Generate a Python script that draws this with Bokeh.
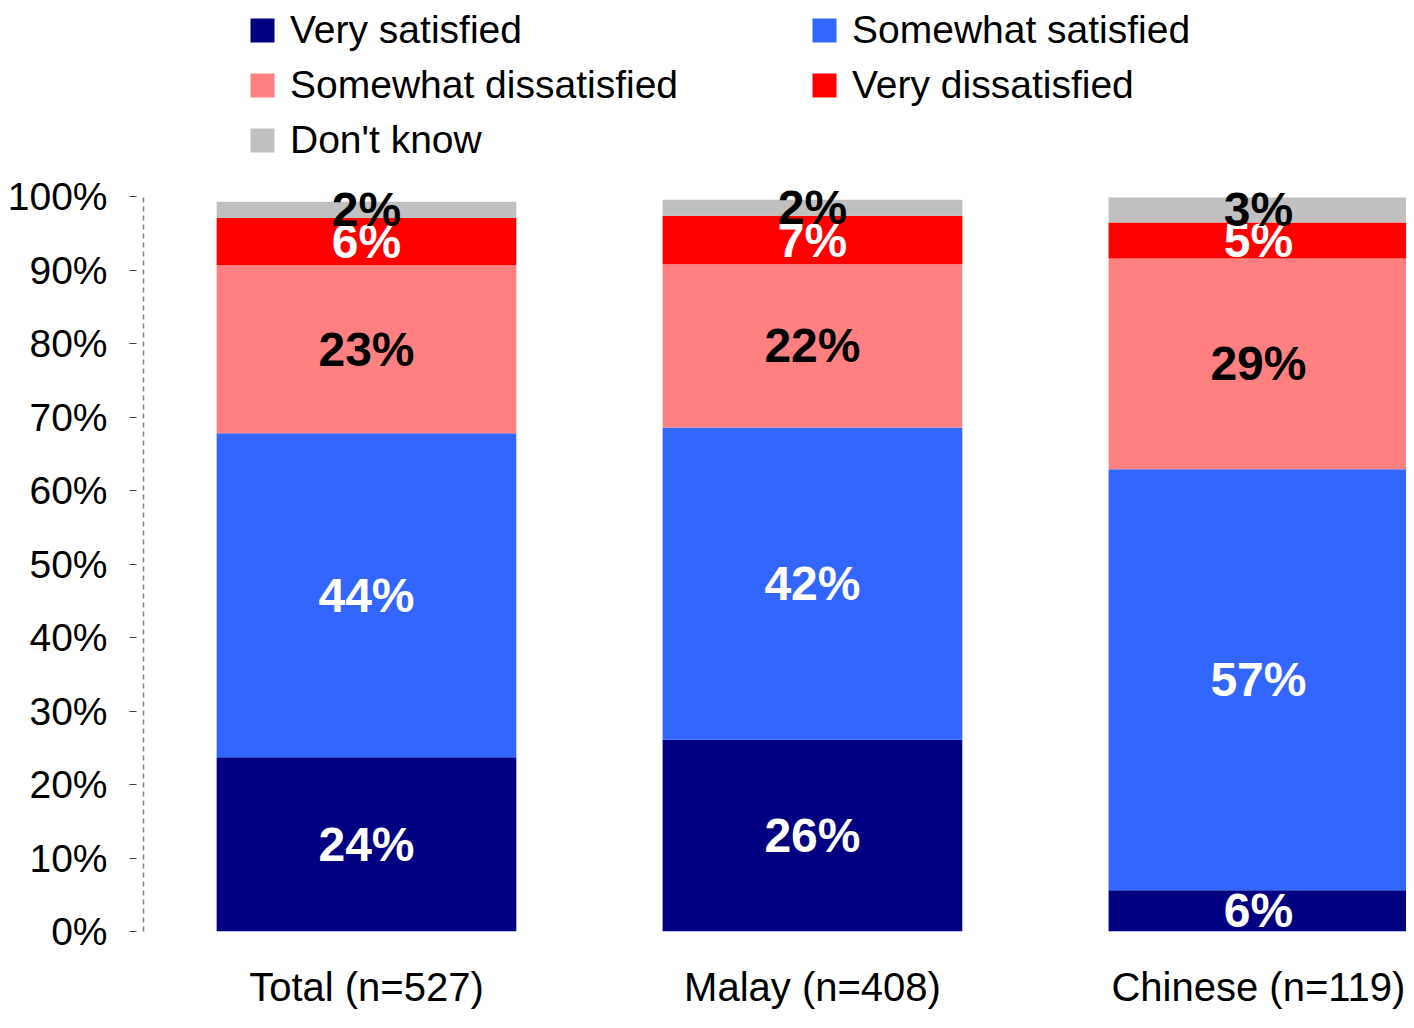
import numpy as np
from bokeh.plotting import figure
from bokeh.models import (ColumnDataSource, Range1d, FixedTicker, PrintfTickFormatter,
                          Legend, LegendItem)
from bokeh.core.properties import value
from bokeh.embed import file_html
from bokeh.resources import INLINE

categories = ["Total (n=527)", "Malay (n=408)", "Chinese (n=119)"]
series_names = ["Very satisfied", "Somewhat satisfied", "Somewhat dissatisfied",
                "Very dissatisfied", "Don't know"]
very_satisfied = [23.7, 26.1, 5.6]
somewhat_satisfied = [44.1, 42.5, 57.3]
somewhat_dissatisfied = [22.9, 22.2, 28.7]
very_dissatisfied = [6.4, 6.6, 4.9]
dont_know = [2.2, 2.2, 3.4]
y_ticks = [0, 10, 20, 30, 40, 50, 60, 70, 80, 90, 100]

colors = ["#000080", "#3366FF", "#FF8080", "#FF0000", "#C0C0C0"]
label_colors = ["white", "white", "black", "white", "black"]
series = [very_satisfied, somewhat_satisfied, somewhat_dissatisfied, very_dissatisfied, dont_know]
keys = ["vs", "ss", "sd", "vd", "dk"]

FONT = "Liberation Sans"

xpos = [i + 0.5 for i in range(len(categories))]
data = {"x": xpos}
for k, s in zip(keys, series):
    data[k] = s
source = ColumnDataSource(data)

p = figure(width=1406, height=1012, output_backend="svg", toolbar_location=None,
           x_range=Range1d(0, 2.832), y_range=Range1d(0, 126.7),
           min_border_left=143, min_border_right=0, min_border_top=0, min_border_bottom=81)
p.outline_line_color = None
p.xgrid.visible = False
p.ygrid.visible = False
p.background_fill_color = "white"

renderers = p.vbar_stack(keys, x="x", width=0.672, color=colors, source=source, line_color=None)

# labels
cum = np.zeros(len(categories))
for s, lc in zip(series, label_colors):
    arr = np.array(s)
    mids = cum + arr / 2
    cum = cum + arr
    lsrc = ColumnDataSource(dict(x=xpos, y=mids, t=[f"{v:.0f}%" for v in arr]))
    p.text(x="x", y="y", text="t", source=lsrc, text_align="center", text_baseline="middle",
           text_font=value(FONT), text_font_style="bold", text_font_size="48px",
           text_color=lc)

# y axis
ya = p.yaxis[0]
ya.ticker = FixedTicker(ticks=y_ticks)
ya.formatter = PrintfTickFormatter(format="%d%%")
ya.bounds = (0, 100)
ya.axis_line_color = "#808080"
ya.axis_line_dash = "5 4"
ya.axis_line_width = 1.5
ya.major_tick_in = -7
ya.major_tick_out = 14
ya.major_tick_line_color = "#404040"
ya.major_tick_line_width = 1
ya.minor_tick_line_color = None
ya.major_label_text_font = FONT
ya.major_label_text_font_size = "39px"
ya.major_label_text_color = "black"
ya.major_label_standoff = 22

# x axis
xa = p.xaxis[0]
xa.ticker = FixedTicker(ticks=xpos)
xa.major_label_overrides = {x: c for x, c in zip(xpos, categories)}
xa.axis_line_color = None
xa.major_tick_line_color = None
xa.minor_tick_line_color = None
xa.major_label_text_font = FONT
xa.major_label_text_font_size = "40px"
xa.major_label_text_color = "black"
xa.major_label_standoff = 27

items = [LegendItem(label=n, renderers=[r]) for n, r in zip(series_names, renderers)]
legend = Legend(items=items, location=(104, 769), orientation="horizontal", nrows=3,
                glyph_width=30, glyph_height=30, label_height=30, label_width=508,
                label_standoff=13, spacing=11, padding=0, margin=0,
                border_line_color=None, background_fill_alpha=0,
                label_text_font=FONT, label_text_font_size="39px",
                label_text_color="black")
p.add_layout(legend, "center")

open("out.html", "w").write(file_html(p, INLINE))
